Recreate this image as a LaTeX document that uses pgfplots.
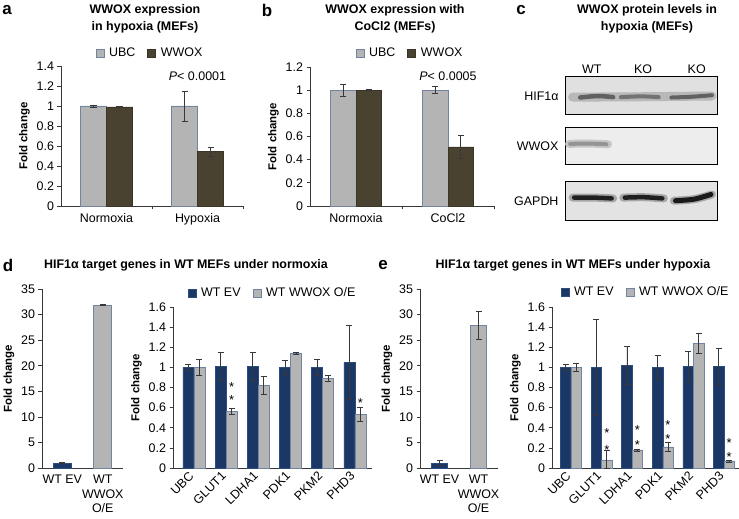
\documentclass[border=0pt]{standalone}
\usepackage{pgfplots}
\pgfplotsset{compat=1.18}
\usepackage{fontspec}
\setmainfont{Liberation Sans}

\definecolor{ubcgrey}{HTML}{B4B4B4}
\definecolor{ubcedge}{HTML}{7284A0}
\definecolor{wwoxbrown}{HTML}{4A4230}
\definecolor{evnavy}{HTML}{1B3766}
\definecolor{evedge}{HTML}{2C4B7E}
\definecolor{axisgrey}{HTML}{383838}

\newcommand{\tfont}{\fontsize{12.5}{14.5}\selectfont}
\newcommand{\hfont}{\bfseries\fontsize{12.5}{17}\selectfont}
\newcommand{\lfont}{\bfseries\fontsize{17}{17}\selectfont}
\newcommand{\sfont}{\fontsize{13}{13}\selectfont}

\pgfplotsset{
  panel/.style={
    scale only axis,
    axis x line*=bottom, axis y line*=left,
    axis line style={axisgrey, line width=0.8bp},
    tick style={axisgrey, line width=0.7bp},
    tick align=outside, major tick length=3.5bp,
    font=\tfont, tick label style={font=\tfont},
    /pgf/number format/assume math mode=true,
    ylabel={Fold change},
    ylabel style={font=\bfseries\fontsize{11.5}{12}\selectfont},
    legend style={draw=none, fill=none, font=\tfont, legend columns=-1,
      /tikz/every odd column/.append style={column sep=3bp},
      /tikz/every even column/.append style={column sep=10bp}},
    ymin=0, clip=false,
  },
  sq/.style={legend image code/.code={\draw[##1] (0bp,-4bp) rectangle (8bp,4bp);}},
  eb/.style={error bars/.cd, y dir=both, y explicit,
    error bar style={axisgrey, line width=0.7bp},
    error mark options={axisgrey, rotate=90, mark size=3bp, line width=0.7bp}},
  ubc/.style={fill=ubcgrey, draw=ubcedge, line width=0.6bp, sq},
  wwox/.style={fill=wwoxbrown, draw=wwoxbrown!80!black, line width=0.6bp, sq},
  ev/.style={fill=evnavy, draw=evedge, line width=0.6bp, sq},
  oe/.style={fill=ubcgrey, draw=ubcedge, line width=0.6bp, sq},
  blot/.style={scale only axis, width=152bp, xmin=0, xmax=3, ymin=0, ymax=1,
    axis line style={black, line width=1bp}, xtick=\empty, ytick=\empty, clip=false},
  band/.style={no markers, line cap=round, smooth},
}

\begin{document}
\begin{tikzpicture}
\path[use as bounding box] (0,0) rectangle (739bp,519bp);

% ---- a
\begin{axis}[panel, ybar=0pt, bar width=26bp,
  at={(61bp,313bp)}, anchor=south west, width=182bp, height=140bp,
  xmin=-0.5, xmax=1.5, ymax=1.4, ytick={0,0.2,0.4,0.6,0.8,1,1.2,1.4},
  xtick={0.5,1.5}, xticklabels={,},
  extra x ticks={0,1}, extra x tick labels={Normoxia,Hypoxia},
  extra x tick style={tick style={draw=none}},
  legend style={at={(0.5,1)}, anchor=center, yshift=13bp, xshift=-2bp}]
\addplot[ubc, eb] coordinates {(0,1.0) +- (0,0.01) (1,1.0) +- (0,0.15)};
\addplot[wwox, eb] coordinates {(0,0.99) +- (0,0.005) (1,0.545) +- (0,0.045)};
\legend{UBC,WWOX}
\node[font=\tfont] at (axis cs:1,1.3) {\textit{P}< 0.0001};
\end{axis}

% ---- b
\begin{axis}[panel, ybar=0pt, bar width=25.5bp,
  at={(310bp,313bp)}, anchor=south west, width=184bp, height=139bp,
  xmin=-0.5, xmax=1.5, ymax=1.2, ytick={0,0.2,0.4,0.6,0.8,1,1.2},
  xtick={0.5,1.5}, xticklabels={,},
  extra x ticks={0,1}, extra x tick labels={Normoxia,CoCl2},
  extra x tick style={tick style={draw=none}},
  legend style={at={(0.5,1)}, anchor=center, yshift=14bp, xshift=8bp}]
\addplot[ubc, eb] coordinates {(0,1.0) +- (0,0.05) (1,1.0) +- (0,0.03)};
\addplot[wwox, eb] coordinates {(0,1.0) +- (0,0.003) (1,0.51) +- (0,0.1)};
\legend{UBC,WWOX}
\node[font=\tfont] at (axis cs:1,1.12) {\textit{P}< 0.0005};
\end{axis}

% ---- c (blots)
\begin{axis}[blot, at={(565bp,404bp)}, anchor=south west, height=38bp,
  axis background/.style={fill=black!12},
  xtick={0.53,1.54,2.6}, xticklabels={WT,KO,KO}, xticklabel pos=upper,
  xtick style={draw=none}, xticklabel style={font=\tfont}]
\addplot[band, line width=9bp, black!28] coordinates {(0.15,0.47) (1.5,0.48) (2.9,0.5)};
\addplot[band, line width=4.5bp, black!62] coordinates {(0.3,0.46) (0.65,0.5) (0.95,0.47)};
\addplot[band, line width=4bp, black!55] coordinates {(1.1,0.47) (1.5,0.49) (1.85,0.47)};
\addplot[band, line width=4bp, black!62] coordinates {(2.1,0.46) (2.5,0.48) (2.9,0.52)};
\node[anchor=east, font=\tfont, xshift=-3bp] at (rel axis cs:0,0.5) {HIF1α};
\end{axis}
\begin{axis}[blot, at={(565bp,354bp)}, anchor=south west, height=37bp,
  axis background/.style={fill=black!7}]
\addplot[band, line width=8bp, black!22] coordinates {(0.08,0.57) (0.45,0.58) (0.85,0.56)};
\addplot[band, line width=4bp, black!42] coordinates {(0.1,0.57) (0.45,0.58) (0.82,0.56)};
\node[anchor=east, font=\tfont, xshift=-3bp] at (rel axis cs:0,0.5) {WWOX};
\end{axis}
\begin{axis}[blot, at={(565bp,298bp)}, anchor=south west, height=39bp,
  axis background/.style={fill=black!11}]
\addplot[band, line width=8bp, black!35] coordinates {(0.15,0.6) (0.55,0.6) (0.95,0.58)};
\addplot[band, line width=8bp, black!35] coordinates {(1.15,0.6) (1.55,0.61) (1.95,0.58)};
\addplot[band, line width=8bp, black!35] coordinates {(2.15,0.52) (2.55,0.56) (2.9,0.68)};
\addplot[band, line width=4.5bp, black!88] coordinates {(0.18,0.6) (0.55,0.6) (0.92,0.58)};
\addplot[band, line width=4.5bp, black!88] coordinates {(1.18,0.6) (1.55,0.61) (1.92,0.58)};
\addplot[band, line width=5bp, black!90] coordinates {(2.18,0.52) (2.55,0.56) (2.88,0.68)};
\node[anchor=east, font=\tfont, xshift=-3bp] at (rel axis cs:0,0.5) {GAPDH};
\end{axis}

% ---- d left
\begin{axis}[panel, ybar=0pt, bar width=18bp,
  at={(42bp,51bp)}, anchor=south west, width=81bp, height=179bp,
  xmin=-0.5, xmax=1.5, ymax=35, ytick={0,5,10,15,20,25,30,35},
  xtick={0,1}, xticklabels={WT EV,{WT\\WWOX\\O/E}},
  xticklabel style={align=center, anchor=north}, xtick style={draw=none}]
\addplot[ev, bar shift=0pt, eb] coordinates {(0,1.0) +- (0,0.1)};
\addplot[oe, bar shift=0pt, eb] coordinates {(1,31.9) +- (0,0.1)};
\end{axis}

% ---- d right
\begin{axis}[panel, ybar=0pt, bar width=11bp,
  at={(173bp,51bp)}, anchor=south west, width=199bp, height=161bp,
  xmin=-0.65, xmax=5.53, ymax=1.6, ytick={0,0.2,0.4,0.6,0.8,1,1.2,1.4,1.6},
  xtick={0,1,2,3,4,5}, xticklabels={UBC,GLUT1,LDHA1,PDK1,PKM2,PHD3},
  xticklabel style={rotate=45, anchor=east}, xtick style={draw=none},
  legend style={at={(0.5,1)}, anchor=center, yshift=14bp}]
\addplot[ev, eb] coordinates {(0,1.0) +- (0,0.03) (1,1.01) +- (0,0.14) (2,1.01) +- (0,0.14)
  (3,1.0) +- (0,0.07) (4,1.0) +- (0,0.08) (5,1.05) +- (0,0.37)};
\addplot[oe, eb] coordinates {(0,1.0) +- (0,0.08) (1,0.56) +- (0,0.03) (2,0.82) +- (0,0.09)
  (3,1.14) +- (0,0.01) (4,0.89) +- (0,0.03) (5,0.53) +- (0,0.07)};
\legend{WT EV,WT WWOX O/E}
\node[font=\sfont, inner sep=0pt] at (axis cs:1.17,0.80) {*};
\node[font=\sfont, inner sep=0pt] at (axis cs:1.17,0.68) {*};
\node[font=\sfont, inner sep=0pt] at (axis cs:5.17,0.65) {*};
\end{axis}

% ---- e left
\begin{axis}[panel, ybar=0pt, bar width=16bp,
  at={(420bp,51bp)}, anchor=south west, width=78bp, height=179bp,
  xmin=-0.5, xmax=1.5, ymax=35, ytick={0,5,10,15,20,25,30,35},
  xtick={0,1}, xticklabels={WT EV,{WT\\WWOX\\O/E}},
  xticklabel style={align=center, anchor=north}, xtick style={draw=none}]
\addplot[ev, bar shift=0pt, eb] coordinates {(0,1.0) +- (0,0.45)};
\addplot[oe, bar shift=0pt, eb] coordinates {(1,27.9) +- (0,2.65)};
\end{axis}

% ---- e right
\begin{axis}[panel, ybar=0pt, bar width=10.5bp,
  at={(552bp,51bp)}, anchor=south west, width=187bp, height=161bp,
  xmin=-0.62, xmax=5.49, ymax=1.6, ytick={0,0.2,0.4,0.6,0.8,1,1.2,1.4,1.6},
  xtick={0,1,2,3,4,5}, xticklabels={UBC,GLUT1,LDHA1,PDK1,PKM2,PHD3},
  xticklabel style={rotate=45, anchor=east}, xtick style={draw=none},
  legend style={at={(0.5,1)}, anchor=center, yshift=15bp}]
\addplot[ev, eb] coordinates {(0,1.0) +- (0,0.03) (1,1.0) +- (0,0.48) (2,1.02) +- (0,0.19)
  (3,1.0) +- (0,0.12) (4,1.01) +- (0,0.15) (5,1.01) +- (0,0.18)};
\addplot[oe, eb] coordinates {(0,1.0) +- (0,0.04) (1,0.08) += (0,0.1) -= (0,0.08) (2,0.18) +- (0,0.01)
  (3,0.21) +- (0,0.04) (4,1.24) +- (0,0.1) (5,0.07) +- (0,0.01)};
\legend{WT EV,WT WWOX O/E}
\node[font=\sfont, inner sep=0pt] at (axis cs:1.17,0.35) {*};
\node[font=\sfont, inner sep=0pt] at (axis cs:1.17,0.18) {*};
\node[font=\sfont, inner sep=0pt] at (axis cs:2.17,0.38) {*};
\node[font=\sfont, inner sep=0pt] at (axis cs:2.17,0.23) {*};
\node[font=\sfont, inner sep=0pt] at (axis cs:3.17,0.43) {*};
\node[font=\sfont, inner sep=0pt] at (axis cs:3.17,0.29) {*};
\node[font=\sfont, inner sep=0pt] at (axis cs:5.17,0.25) {*};
\node[font=\sfont, inner sep=0pt] at (axis cs:5.17,0.11) {*};
\end{axis}

% ---- titles and panel letters
\node[font=\hfont, align=center] at (145bp,500.5bp) {WWOX expression\\in hypoxia (MEFs)};
\node[font=\hfont, align=center] at (395bp,500.5bp) {WWOX expression with\\CoCl2 (MEFs)};
\node[font=\hfont, align=center] at (647bp,500.5bp) {WWOX protein levels in\\hypoxia (MEFs)};
\node[font=\hfont] at (186bp,254bp) {HIF1α target genes in WT MEFs under normoxia};
\node[font=\hfont] at (573bp,254bp) {HIF1α target genes in WT MEFs under hypoxia};
\node[font=\lfont] at (7bp,509bp) {a};
\node[font=\lfont] at (267bp,509bp) {b};
\node[font=\lfont] at (521bp,509bp) {c};
\node[font=\lfont] at (8bp,254bp) {d};
\node[font=\lfont] at (383bp,254bp) {e};
\end{tikzpicture}
\end{document}
